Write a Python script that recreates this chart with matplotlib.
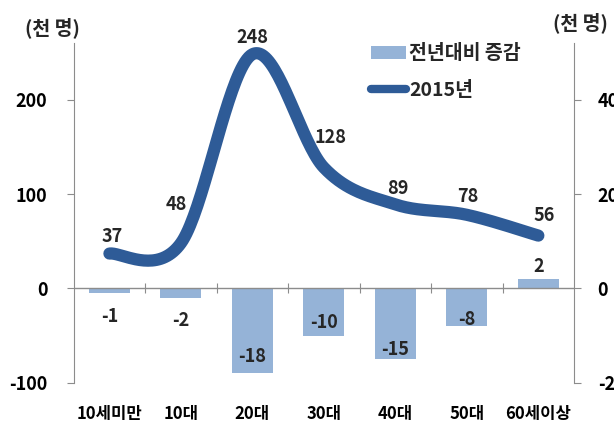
import numpy as np
import matplotlib
matplotlib.use("Agg")
import matplotlib.pyplot as plt
from matplotlib.lines import Line2D
from matplotlib.patches import Patch

plt.rcParams['font.family'] = ['Noto Sans CJK KR', 'DejaVu Sans']

categories = ['10세미만', '10대', '20대', '30대', '40대', '50대', '60세이상']
pop_2015 = [37, 48, 248, 128, 89, 78, 56]
yoy_change = [-1, -2, -18, -10, -15, -8, 2]
left_ticks = [-100, 0, 100, 200]
right_ticks = [-20, 0, 20, 40]

bar_color = '#95B3D7'
line_color = '#2E5B97'
text_color = '#262626'
axis_color = '#8C8C8C'

fig = plt.figure(figsize=(6.14, 4.25), dpi=100)
ax = fig.add_axes([0.120, 0.099, 0.815, 0.80])
ax2 = ax.twinx()

ymin, ymax = -100, 260
ax.set_ylim(ymin, ymax)
ax2.set_ylim(ymin / 5, ymax / 5)
n = len(categories)
x = np.arange(n)
ax.set_xlim(-0.5, n - 0.5)

# bars on secondary axis
ax2.bar(x, yoy_change, width=0.575, color=bar_color, zorder=2)

# smoothed line (Excel-like Bezier smoothing through the data points)
def smooth(xs, ys, steps=40):
    P = np.column_stack([xs, ys]).astype(float)
    out = []
    m = len(P)
    for i in range(m - 1):
        p0 = P[i - 1] if i > 0 else P[i]
        p1 = P[i]
        p2 = P[i + 1]
        p3 = P[i + 2] if i + 2 < m else P[i + 1]
        c1 = p1 + (p2 - p0) / 6.0
        c2 = p2 - (p3 - p1) / 6.0
        t = np.linspace(0, 1, steps)[:, None]
        seg = ((1 - t) ** 3) * p1 + 3 * ((1 - t) ** 2) * t * c1 + 3 * (1 - t) * t ** 2 * c2 + t ** 3 * p2
        out.append(seg if i == 0 else seg[1:])
    s = np.vstack(out)
    return s[:, 0], s[:, 1]

sx, sy = smooth(x, pop_2015)
ax.set_zorder(ax2.get_zorder() + 1)
ax.patch.set_visible(False)
ax.plot(sx, sy, color=line_color, lw=8.8, solid_capstyle='round', zorder=3)

# zero line
ax.axhline(0, color=axis_color, lw=1.0, zorder=1)

# line labels (offsets in points, label centre relative to the point)
line_offsets = [(2, 12), (-3, 28), (0, 12), (5, 22), (2, 11.5), (1, 13.5), (4.5, 14.5)]
for xi, v, off in zip(x, pop_2015, line_offsets):
    ax.annotate(str(v), (xi, v), xytext=off, textcoords='offset points',
                ha='center', va='center', fontsize=13, fontweight='bold', color=text_color)

# bar labels
bar_offsets = [(0, -17), (0, -16), (0, 12), (0, 9.5), (0, 7), (0, 5), (0, 9)]
for xi, v, off in zip(x, yoy_change, bar_offsets):
    ax2.annotate(str(v), (xi, v), xytext=off, textcoords='offset points',
                 ha='center', va='center',
                 fontsize=13, fontweight='bold', color=text_color)

# axes styling
for a in (ax, ax2):
    a.spines['top'].set_visible(False)
    a.spines['bottom'].set_visible(False)
    a.spines['left'].set_color(axis_color)
    a.spines['right'].set_color(axis_color)
ax.spines['right'].set_visible(False)
ax2.spines['left'].set_visible(False)

ax.set_yticks(left_ticks)
ax.set_yticklabels([str(t) for t in left_ticks], fontsize=13, fontweight='bold')
ax.tick_params(axis='y', length=5, color=axis_color, pad=14)
ax2.set_yticks(right_ticks)
ax2.set_yticklabels([str(t) for t in right_ticks], fontsize=13, fontweight='bold')
ax2.tick_params(axis='y', length=5, color=axis_color, pad=12)

ax.set_xticks(x)
ax.set_xticklabels(categories, fontsize=12, fontweight='bold')
ax.tick_params(axis='x', length=0, pad=16)

# category boundary ticks on the zero line
loc = (0 - ymin) / (ymax - ymin)
sec = ax.secondary_xaxis(loc)
sec.set_xticks(np.arange(n - 1) + 0.5)
sec.set_xticklabels([])
sec.tick_params(axis='x', direction='inout', length=7, color=axis_color)
sec.spines['bottom'].set_visible(False)
sec.spines['top'].set_visible(False)

# unit labels
fig.text(0.040, 0.934, '(천 명)', fontsize=14, fontweight='bold', color=text_color, va='center')
fig.text(0.900, 0.946, '(천 명)', fontsize=14, fontweight='bold', color=text_color, va='center')

# legend
handles = [Patch(facecolor=bar_color, edgecolor='none'),
           Line2D([0], [0], color=line_color, lw=6, solid_capstyle='round')]
leg = fig.legend(handles, ['전년대비 증감', '2015년'], loc='upper left',
                 bbox_to_anchor=(0.576, 0.937), frameon=False,
                 prop={'size': 14, 'weight': 'bold'}, handlelength=1.8,
                 handleheight=0.6, handletextpad=0.15, labelspacing=0.9)
for t in leg.get_texts():
    t.set_color(text_color)

fig.savefig('out.png', dpi=100)
